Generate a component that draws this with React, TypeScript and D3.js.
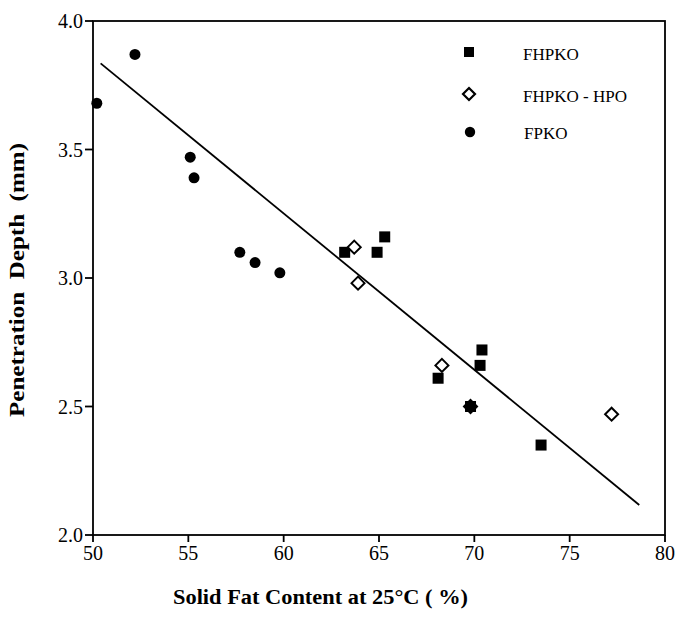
import React from "react";
import * as d3 from "d3";

const xTicks = [50, 55, 60, 65, 70, 75, 80];
const yTicks = [2.0, 2.5, 3.0, 3.5, 4.0];

const fhpkoX = [63.2, 64.9, 65.3, 68.1, 70.3, 70.4, 73.5, 69.8];
const fhpkoY = [3.10, 3.10, 3.16, 2.61, 2.66, 2.72, 2.35, 2.50];

const hpoX = [63.7, 63.9, 68.3, 77.2, 69.8];
const hpoY = [3.12, 2.98, 2.66, 2.47, 2.50];

const fpkoX = [50.2, 52.2, 55.1, 55.3, 57.7, 58.5, 59.8, 69.8];
const fpkoY = [3.68, 3.87, 3.47, 3.39, 3.10, 3.06, 3.02, 2.50];

const fitX = [50.4, 78.65];
const fitY = [3.835, 2.117];

const legendLabels = ["FHPKO", "FHPKO - HPO", "FPKO"];

const W = 677;
const H = 617;
const left = 93;
const right = 665;
const top = 21;
const bottom = 535;

export default function App() {
  const x = d3.scaleLinear().domain([50, 80]).range([left, right]);
  const y = d3.scaleLinear().domain([2, 4]).range([bottom, top]);
  const line = d3.line<number>().x((d) => x(fitX[d])).y((d) => y(fitY[d]));
  const font = "Liberation Serif, Times New Roman, serif";
  const sq = 11;
  const dm = 6.5;
  const diamond = (cx: number, cy: number) =>
    `M${cx},${cy - dm}L${cx + dm},${cy}L${cx},${cy + dm}L${cx - dm},${cy}Z`;

  return (
    <svg
      width={W}
      height={H}
      style={{ position: "absolute", left: 0, top: 0, background: "#fff" }}
    >
      <rect x={0} y={0} width={W} height={H} fill="#fff" />
      <rect
        x={left}
        y={top}
        width={right - left}
        height={bottom - top}
        fill="none"
        stroke="#000"
        strokeWidth={1.8}
      />
      {xTicks.map((t) => (
        <g key={"xt" + t}>
          <line x1={x(t)} x2={x(t)} y1={bottom} y2={bottom + 7} stroke="#000" strokeWidth={1.8} />
          <text x={x(t)} y={bottom + 25} textAnchor="middle" fontSize={20} fontFamily={font}>
            {t}
          </text>
        </g>
      ))}
      {yTicks.map((t) => (
        <g key={"yt" + t}>
          <line x1={left - 8} x2={left} y1={y(t)} y2={y(t)} stroke="#000" strokeWidth={1.8} />
          <text x={left - 10} y={y(t) + 7} textAnchor="end" fontSize={20} fontFamily={font}>
            {t.toFixed(1)}
          </text>
        </g>
      ))}
      <path d={line([0, 1]) || ""} fill="none" stroke="#000" strokeWidth={1.8} />
      {fpkoX.map((v, i) => (
        <circle key={"c" + i} cx={x(v)} cy={y(fpkoY[i])} r={5.5} fill="#000" />
      ))}
      {fhpkoX.map((v, i) => (
        <rect
          key={"s" + i}
          x={x(v) - sq / 2}
          y={y(fhpkoY[i]) - sq / 2}
          width={sq}
          height={sq}
          fill="#000"
        />
      ))}
      {hpoX.map((v, i) => (
        <path
          key={"d" + i}
          d={diamond(x(v), y(hpoY[i]))}
          fill={i === 4 ? "#000" : "#fff"}
          stroke="#000"
          strokeWidth={2}
        />
      ))}
      <rect x={469 - 5} y={52 - 5} width={10} height={10} fill="#000" />
      <path d={`M469,88L475,94L469,100L463,94Z`} fill="#fff" stroke="#000" strokeWidth={2.2} />
      <circle cx={470} cy={132} r={5.2} fill="#000" />
      {legendLabels.map((l, i) => (
        <text
          key={l}
          x={i === 2 ? 524 : 523}
          y={[60, 102, 139][i]}
          fontSize={17}
          fontFamily={font}
        >
          {l}
        </text>
      ))}
      <text
        x={173}
        y={604}
        fontSize={20}
        fontWeight="bold"
        fontFamily={font}
        textLength={295}
        lengthAdjust="spacingAndGlyphs"
        style={{ whiteSpace: "pre" }}
      >
        Solid Fat Content at 25°C ( %)
      </text>
      <text
        transform={`translate(24,417) rotate(-90)`}
        fontSize={21}
        fontWeight="bold"
        fontFamily={font}
        textLength={274}
        lengthAdjust="spacingAndGlyphs"
        style={{ whiteSpace: "pre" }}
      >
        Penetration  Depth  (mm)
      </text>
    </svg>
  );
}
